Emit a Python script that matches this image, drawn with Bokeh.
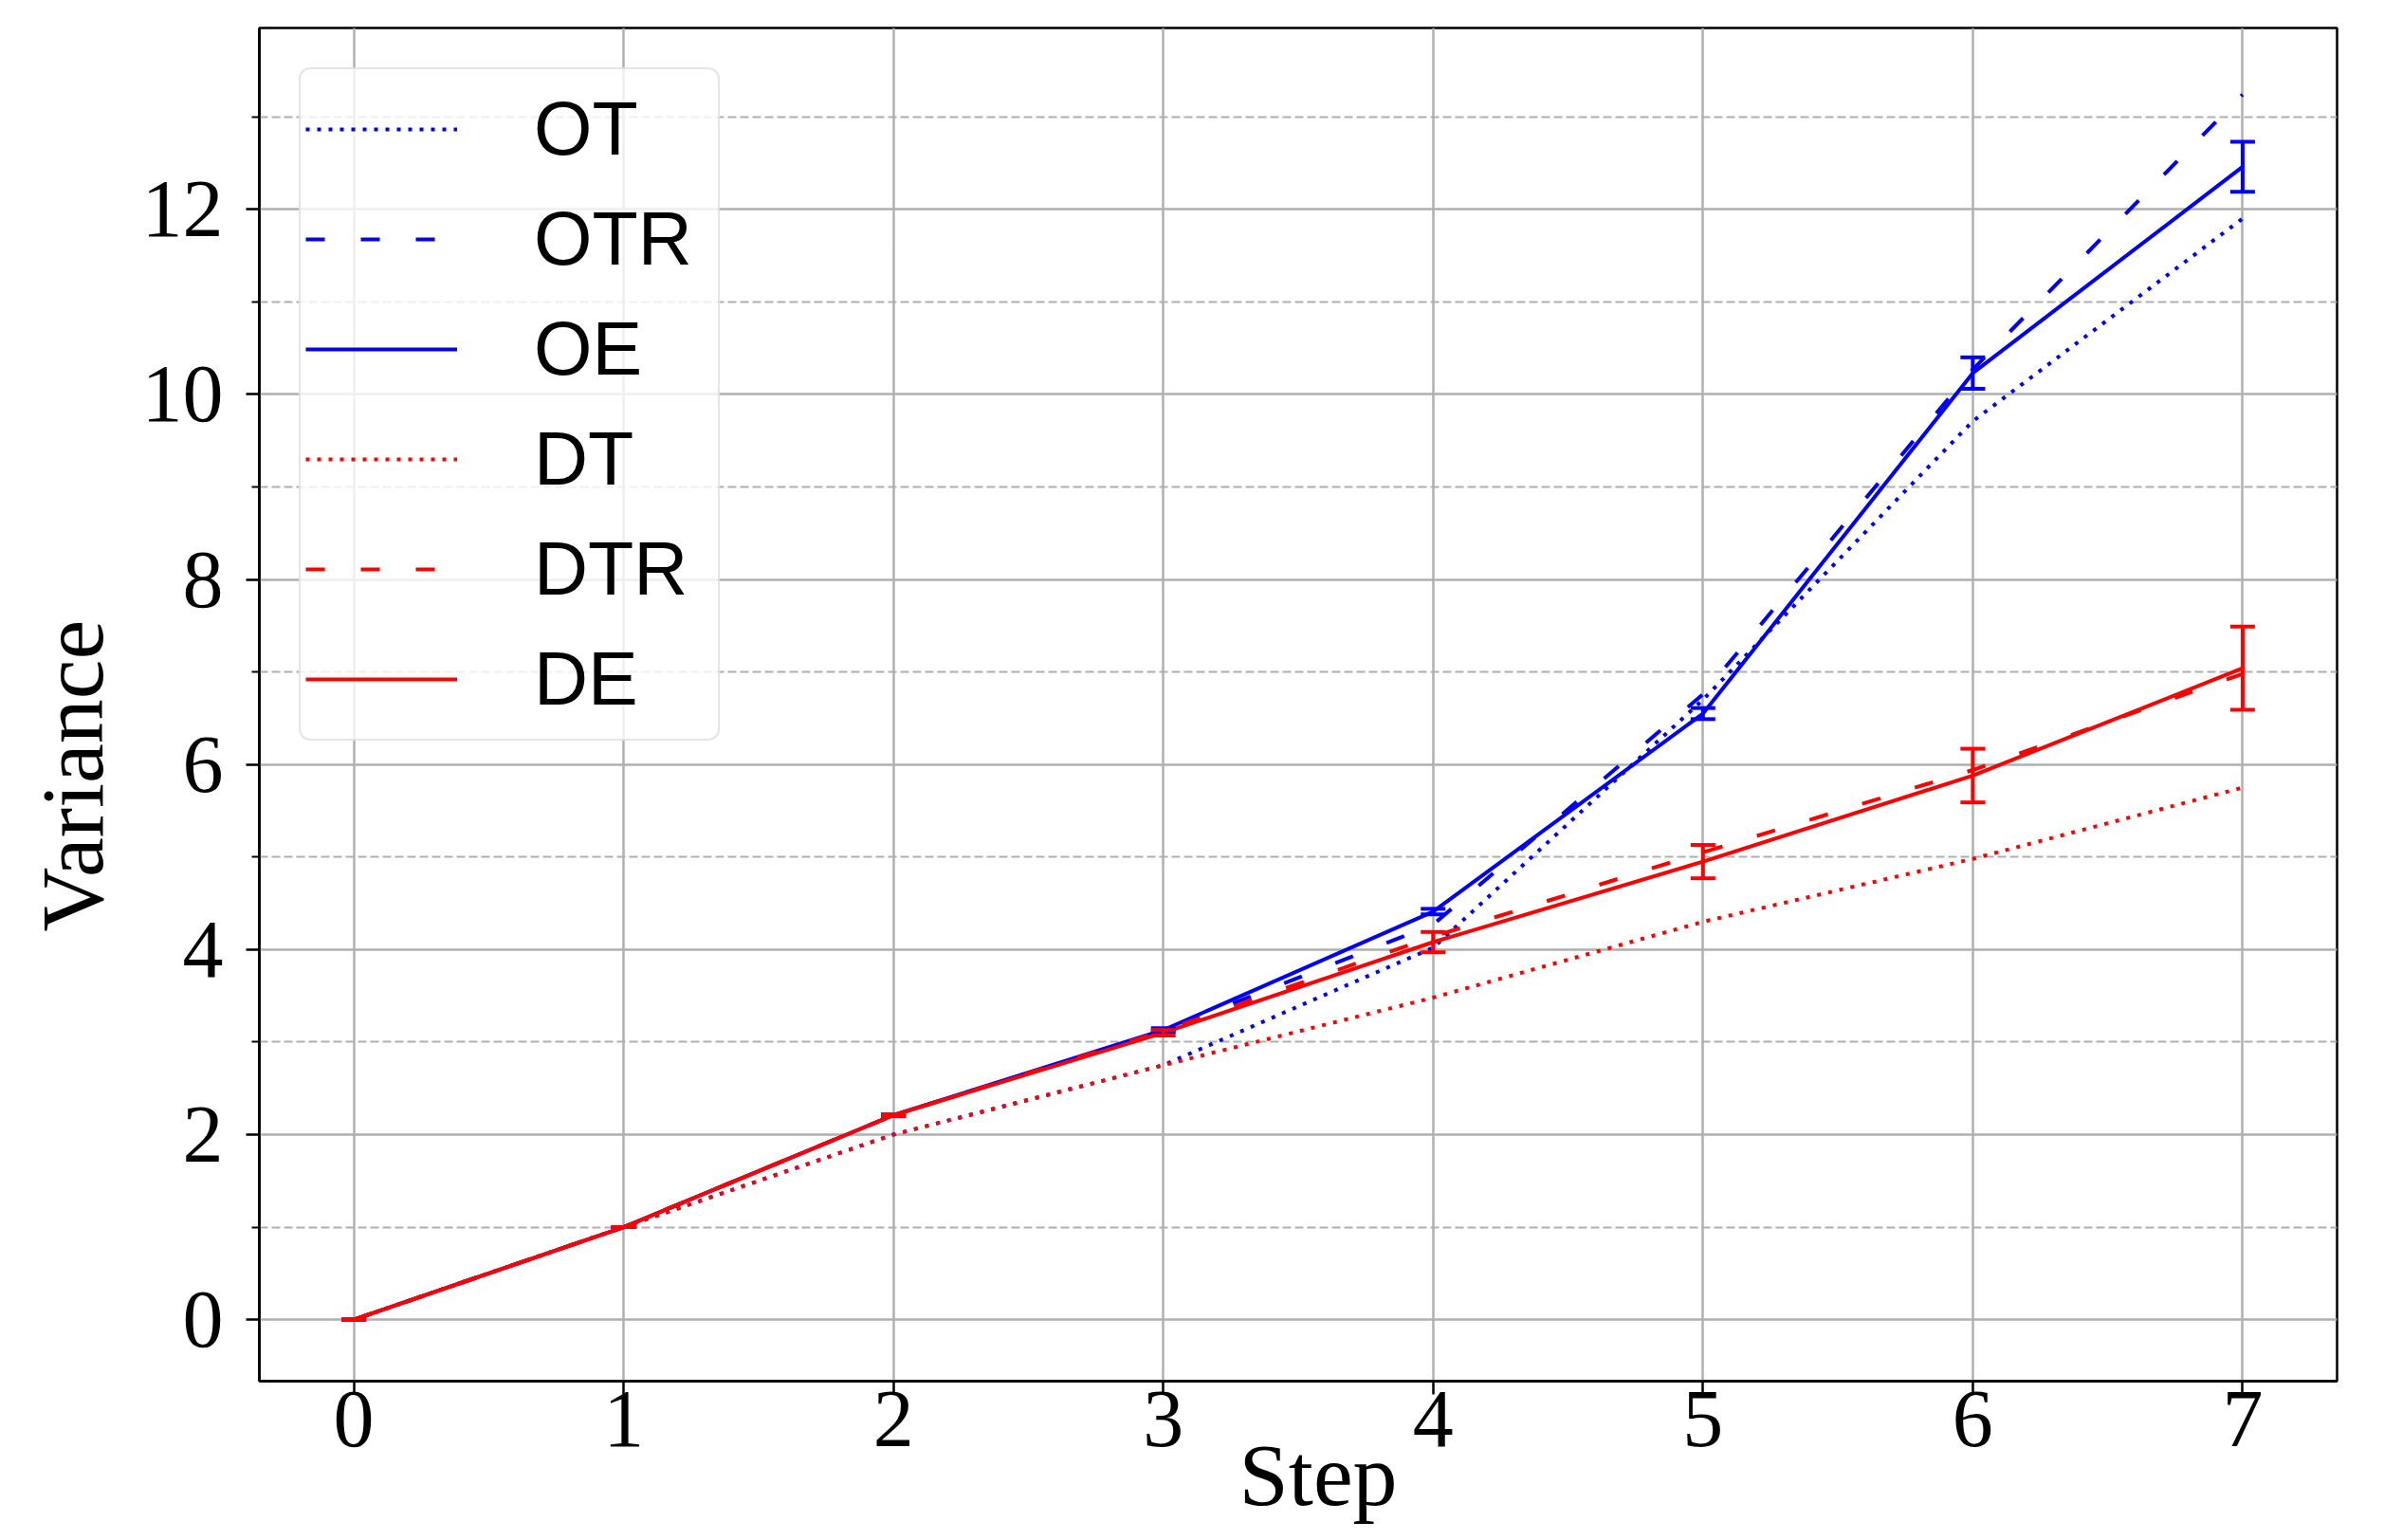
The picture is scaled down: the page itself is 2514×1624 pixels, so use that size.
from bokeh.plotting import figure
from bokeh.models import (Range1d, FixedTicker, Legend, LegendItem, Whisker,
                          TeeHead, ColumnDataSource, Title)
from bokeh.embed import file_html
from bokeh.resources import INLINE

# ---------------- data ----------------
steps = [0, 1, 2, 3, 4, 5, 6, 7]
OT = [0.0, 1.0, 2.0, 2.75, 4.02, 6.70, 9.71, 11.90]
OTR = [0.0, 1.0, 2.21, 3.12, 4.27, 6.76, 10.27, 13.24]
OE = [0.0, 1.0, 2.21, 3.13, 4.41, 6.55, 10.23, 12.46]
OE_err = [0.0, 0.0, 0.01, 0.02, 0.03, 0.06, 0.17, 0.27]
DT = [0.0, 1.0, 2.0, 2.75, 3.48, 4.30, 4.98, 5.75]
DTR = [0.0, 1.0, 2.21, 3.12, 4.14, 5.05, 5.94, 6.98]
DE = [0.0, 1.0, 2.21, 3.10, 4.08, 4.95, 5.88, 7.04]
DE_err = [0.0, 0.0, 0.01, 0.03, 0.11, 0.18, 0.29, 0.45]

y_major = [0, 2, 4, 6, 8, 10, 12]
y_minor = [1, 3, 5, 7, 9, 11, 13]

x_label = "Step"
y_label = "Variance"

BLUE = "#0000ff"
RED = "#ff0000"
LW = 4
SERIF = "Liberation Serif"

p = figure(width=2498, height=1608, output_backend="svg", toolbar_location=None,
           x_range=Range1d(-0.35, 7.35), y_range=Range1d(-0.665, 13.96),
           min_border_left=273, min_border_right=34, min_border_top=29,
           min_border_bottom=152)
p.background_fill_color = "white"
p.border_fill_color = "white"
p.outline_line_color = "black"
p.outline_line_width = 2.5
p.outline_line_alpha = 1.0

# grids
p.xgrid.grid_line_color = "#b0b0b0"
p.xgrid.grid_line_width = 2.5
p.ygrid.grid_line_color = "#b0b0b0"
p.ygrid.grid_line_width = 2.5
p.ygrid.minor_grid_line_color = "#b0b0b0"
p.ygrid.minor_grid_line_width = 2.2
p.ygrid.minor_grid_line_dash = "9 4"

# axes
p.xaxis.ticker = FixedTicker(ticks=steps)
p.yaxis.ticker = FixedTicker(ticks=y_major, minor_ticks=y_minor)
for ax in (p.xaxis[0], p.yaxis[0]):
    ax.axis_line_color = "black"
    ax.axis_line_width = 2.5
    ax.major_tick_line_color = "black"
    ax.major_tick_line_width = 2.5
    ax.major_tick_out = 14
    ax.major_tick_in = 0
    ax.minor_tick_line_color = "black"
    ax.minor_tick_line_width = 2
    ax.minor_tick_out = 8
    ax.minor_tick_in = 0
    ax.major_label_text_font = SERIF
    ax.major_label_text_font_size = "86px"
    ax.major_label_text_color = "black"
p.xaxis.minor_tick_line_color = None
p.xaxis.major_label_standoff = -3
p.yaxis.major_label_standoff = 24

# axis titles as side titles, shifted like in the original
t_y = Title(text=y_label, align="left", offset=474, standoff=38,
            text_font=SERIF, text_font_size="94px", text_font_style="normal",
            text_color="black")
p.add_layout(t_y, "left")
t_x = Title(text=x_label, align="left", offset=1033, standoff=-54,
            text_font=SERIF, text_font_size="94px", text_font_style="normal",
            text_color="black")
p.add_layout(t_x, "below")

# lines
r_ot = p.line(steps, OT, line_color=BLUE, line_width=LW, line_dash="4 8")
r_otr = p.line(steps, OTR, line_color=BLUE, line_width=LW, line_dash="20 38")
r_oe = p.line(steps, OE, line_color=BLUE, line_width=LW)

src_oe = ColumnDataSource(dict(
    x=steps,
    upper=[v + e for v, e in zip(OE, OE_err)],
    lower=[v - e for v, e in zip(OE, OE_err)]))
w_oe = Whisker(base="x", upper="upper", lower="lower", source=src_oe,
               dimension="height", line_color=BLUE, line_width=LW,
               upper_head=TeeHead(size=26, line_color=BLUE, line_width=LW),
               lower_head=TeeHead(size=26, line_color=BLUE, line_width=LW),
               level="glyph")
p.add_layout(w_oe)

r_dt = p.line(steps, DT, line_color=RED, line_width=LW, line_dash="4 8")
r_dtr = p.line(steps, DTR, line_color=RED, line_width=LW, line_dash="20 38")
r_de = p.line(steps, DE, line_color=RED, line_width=LW)

src_de = ColumnDataSource(dict(
    x=steps,
    upper=[v + e for v, e in zip(DE, DE_err)],
    lower=[v - e for v, e in zip(DE, DE_err)]))
w_de = Whisker(base="x", upper="upper", lower="lower", source=src_de,
               dimension="height", line_color=RED, line_width=LW,
               upper_head=TeeHead(size=26, line_color=RED, line_width=LW),
               lower_head=TeeHead(size=26, line_color=RED, line_width=LW),
               level="glyph")
p.add_layout(w_de)

legend = Legend(items=[
    LegendItem(label="OT", renderers=[r_ot]),
    LegendItem(label="OTR", renderers=[r_otr]),
    LegendItem(label="OE", renderers=[r_oe]),
    LegendItem(label="DT", renderers=[r_dt]),
    LegendItem(label="DTR", renderers=[r_dtr]),
    LegendItem(label="DE", renderers=[r_de]),
], location="top_left")
legend.margin = 42
legend.padding = 5
legend.spacing = 0
legend.glyph_width = 160
legend.glyph_height = 116
legend.label_height = 116
legend.label_width = 189
legend.label_standoff = 81
legend.label_text_font = "Liberation Sans"
legend.label_text_font_size = "79px"
legend.label_text_color = "black"
legend.border_line_color = "#cccccc"
legend.border_line_width = 2.5
legend.background_fill_color = "white"
legend.background_fill_alpha = 0.8
try:
    legend.border_radius = 12
except Exception:
    pass
p.add_layout(legend)

open("out.html", "w").write(file_html(p, INLINE))
